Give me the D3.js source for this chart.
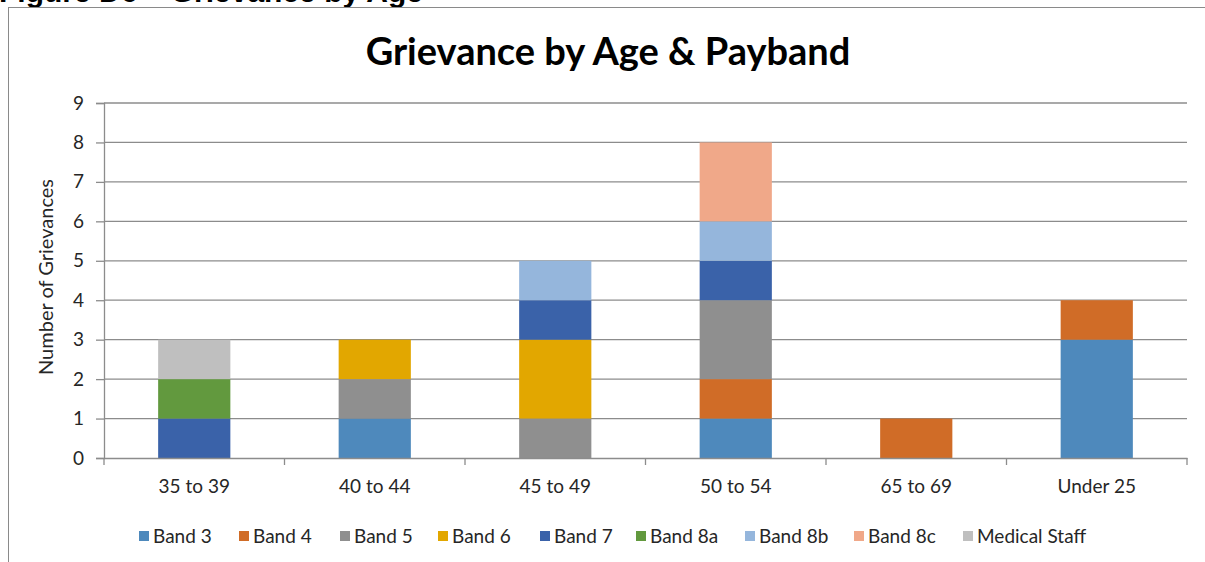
<!DOCTYPE html>
<html>
<head>
<meta charset="utf-8">
<script src="https://cdn.jsdelivr.net/npm/d3@7"></script>
<style>
  html, body { margin: 0; padding: 0; background: #ffffff; }
  svg { display: block; }
</style>
</head>
<body>
<svg id="chart" width="1205" height="562"></svg>
<script>
// Age groups along the x axis
const ageGroups = ["35 to 39", "40 to 44", "45 to 49", "50 to 54", "65 to 69", "Under 25"];

// Payband series, stacked bottom to top
const bands = ["Band 3", "Band 4", "Band 5", "Band 6", "Band 7", "Band 8a", "Band 8b", "Band 8c", "Medical Staff"];

// Grievance counts per age group, one array per payband
const band3   = [0, 1, 0, 1, 0, 3];
const band4   = [0, 0, 0, 1, 1, 1];
const band5   = [0, 1, 1, 2, 0, 0];
const band6   = [0, 1, 2, 0, 0, 0];
const band7   = [1, 0, 1, 1, 0, 0];
const band8a  = [1, 0, 0, 0, 0, 0];
const band8b  = [0, 0, 1, 1, 0, 0];
const band8c  = [0, 0, 0, 2, 0, 0];
const medical = [1, 0, 0, 0, 0, 0];

const yTicks = [0, 1, 2, 3, 4, 5, 6, 7, 8, 9];

const bandColors = ["#4e89bc", "#d06c27", "#8f8f8f", "#e2a700", "#3a62a9", "#62993e", "#95b6dc", "#f0a889", "#bfbfbf"];

const seriesValues = [band3, band4, band5, band6, band7, band8a, band8b, band8c, medical];
const rows = ageGroups.map((g, i) => {
  const r = { group: g };
  bands.forEach((b, j) => { r[b] = seriesValues[j][i]; });
  return r;
});

const svg = d3.select("#chart");
const uiFont = "Lato, 'Open Sans', sans-serif";
const textColor = "#262626";
const axisGrey = "#8c8c8c";

// Document caption above the chart (its lower part sits behind the chart box)
svg.append("text")
  .attr("x", -1)
  .attr("y", 2)
  .attr("font-family", "'Liberation Sans', Arial, sans-serif")
  .attr("font-weight", "bold")
  .attr("font-size", 30)
  .attr("fill", "#000")
  .text("Figure D6 \u2013 Grievance by Age");

// Chart box
svg.append("rect")
  .attr("x", 8.5).attr("y", 7.5)
  .attr("width", 1210).attr("height", 570)
  .attr("fill", "#fff")
  .attr("stroke", "#8a8a8a")
  .attr("stroke-width", 1);

// Title
svg.append("text")
  .attr("x", 608)
  .attr("y", 65)
  .attr("text-anchor", "middle")
  .attr("font-family", uiFont)
  .attr("font-weight", "bold")
  .attr("font-size", 38)
  .attr("fill", "#000")
  .text("Grievance by Age & Payband");

const plot = { left: 104, right: 1187, top: 103, bottom: 458 };

const x = d3.scaleBand()
  .domain(ageGroups)
  .range([plot.left, plot.right])
  .paddingInner(0.6)
  .paddingOuter(0.3);

const y = d3.scaleLinear()
  .domain([0, 9])
  .range([plot.bottom, plot.top]);

// Horizontal gridlines
svg.append("g")
  .selectAll("line")
  .data(yTicks.filter(t => t > 0))
  .join("line")
  .attr("x1", plot.left).attr("x2", plot.right)
  .attr("y1", d => y(d)).attr("y2", d => y(d))
  .attr("stroke", axisGrey)
  .attr("stroke-width", 1.3);

// Stacked bars
const stack = d3.stack().keys(bands);
const layers = stack(rows);

svg.append("g")
  .selectAll("g")
  .data(layers)
  .join("g")
  .attr("fill", (d, i) => bandColors[i])
  .selectAll("rect")
  .data(d => d.filter(s => s[1] - s[0] > 0))
  .join("rect")
  .attr("x", d => x(d.data.group))
  .attr("width", x.bandwidth())
  .attr("y", d => y(d[1]))
  .attr("height", d => y(d[0]) - y(d[1]));

// Y axis
const yAxis = svg.append("g")
  .attr("transform", `translate(${plot.left},0)`)
  .call(d3.axisLeft(y).tickValues(yTicks).tickSize(8).tickPadding(12).tickFormat(d3.format("d")));
yAxis.select(".domain").attr("stroke", axisGrey).attr("stroke-width", 1.3);
yAxis.selectAll(".tick line").attr("stroke", axisGrey).attr("stroke-width", 1.3);
yAxis.selectAll(".tick text")
  .attr("font-family", uiFont)
  .attr("font-size", 19)
  .attr("fill", textColor);

// X axis with boundary ticks between categories
const xAxis = svg.append("g")
  .attr("transform", `translate(0,${plot.bottom})`)
  .call(d3.axisBottom(x).tickSize(0).tickPadding(22));
xAxis.select(".domain").attr("stroke", axisGrey).attr("stroke-width", 1.3);
xAxis.selectAll(".tick text")
  .attr("font-family", uiFont)
  .attr("font-size", 19)
  .attr("fill", textColor);

const step = x.step();
const boundaries = d3.range(ageGroups.length + 1).map(i => plot.left + i * step);
xAxis.append("g")
  .selectAll("line")
  .data(boundaries)
  .join("line")
  .attr("x1", d => d).attr("x2", d => d)
  .attr("y1", 0).attr("y2", 7)
  .attr("stroke", axisGrey)
  .attr("stroke-width", 1.3);

// Y axis title
svg.append("text")
  .attr("transform", "translate(53,277) rotate(-90)")
  .attr("text-anchor", "middle")
  .attr("font-family", uiFont)
  .attr("font-size", 20)
  .attr("fill", textColor)
  .text("Number  of Grievances");

// Legend
const legendX = [139, 239, 340, 438, 540, 636, 745, 854, 963];
const legend = svg.append("g").attr("transform", "translate(0,536)");
const items = legend.selectAll("g")
  .data(bands)
  .join("g")
  .attr("transform", (d, i) => `translate(${legendX[i]},0)`);
items.append("rect")
  .attr("x", 0).attr("y", -5)
  .attr("width", 10).attr("height", 10)
  .attr("fill", (d, i) => bandColors[i]);
items.append("text")
  .attr("x", 14).attr("y", 6.5)
  .attr("font-family", uiFont)
  .attr("font-size", 19)
  .attr("fill", textColor)
  .text(d => d);
</script>
</body>
</html>
